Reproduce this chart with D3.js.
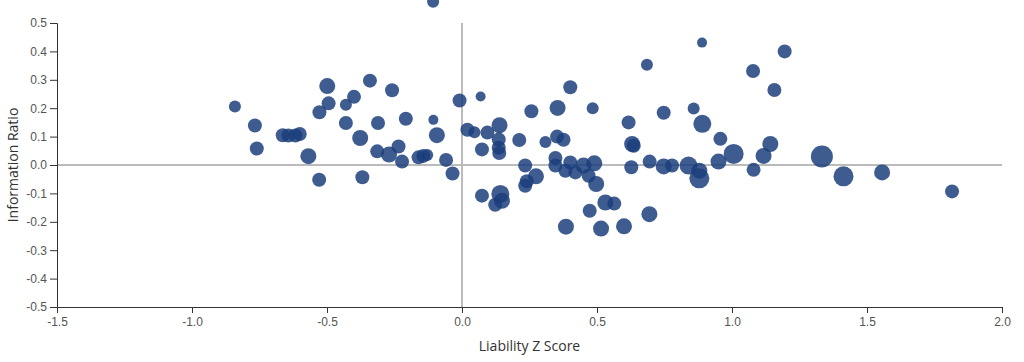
<!DOCTYPE html>
<html>
<head>
<meta charset="utf-8">
<script src="https://cdn.jsdelivr.net/npm/d3@7"></script>
<style>
  body { margin: 0; background: #fff; }
  .axis text { font-family: Arial, "Liberation Sans", sans-serif; font-size: 12px; fill: #555; }
  .axis path, .axis line { stroke: #333; }
  .title { font-family: "Open Sans", sans-serif; font-size: 14px; fill: #333; }
</style>
</head>
<body>
<svg id="chart" width="1024" height="362"></svg>
<script>
// liability z score per fund
var zScore = [
  -0.841, -0.767, -0.760, -0.664, -0.643, -0.617, -0.601, -0.569, -0.529, -0.528,
  -0.499, -0.494, -0.430, -0.400, -0.430, -0.377, -0.369, -0.341, -0.311, -0.259,
  -0.208, -0.106, -0.093, -0.314, -0.270, -0.235, -0.222, -0.161, -0.143, -0.129,
  -0.059, -0.035, -0.009, 0.069, 0.020, 0.046, 0.094, 0.139, 0.136, 0.136,
  0.138, 0.074, -0.107, 0.074, 0.123, 0.142, 0.148, 0.212, 0.234, 0.240,
  0.234, 0.274, 0.257, 0.309, 0.354, 0.352, 0.376, 0.401, 0.484, 0.346,
  0.346, 0.401, 0.383, 0.420, 0.450, 0.490, 0.469, 0.497, 0.473, 0.531,
  0.564, 0.385, 0.515, 0.600, 0.694, 0.617, 0.630, 0.636, 0.627, 0.695,
  0.685, 0.747, 0.747, 0.778, 0.839, 0.858, 0.879, 0.879, 0.889, 0.890,
  0.950, 0.957, 1.006, 1.080, 1.078, 1.117, 1.142, 1.157, 1.195, 1.333,
  1.413, 1.556, 1.815
];
// information ratio per fund
var infoRatio = [
  0.206, 0.139, 0.058, 0.105, 0.104, 0.104, 0.109, 0.031, -0.052, 0.186,
  0.278, 0.217, 0.212, 0.240, 0.148, 0.095, -0.043, 0.297, 0.148, 0.263,
  0.163, 0.159, 0.105, 0.048, 0.037, 0.065, 0.012, 0.027, 0.032, 0.035,
  0.018, -0.030, 0.227, 0.241, 0.124, 0.115, 0.114, 0.140, 0.090, 0.061,
  0.042, 0.055, 0.575, -0.108, -0.140, -0.102, -0.126, 0.088, -0.002, -0.057,
  -0.073, -0.040, 0.189, 0.081, 0.201, 0.100, 0.089, 0.274, 0.200, 0.025,
  -0.002, 0.009, -0.020, -0.026, -0.002, 0.006, -0.038, -0.067, -0.161, -0.132,
  -0.136, -0.217, -0.224, -0.216, -0.173, 0.150, 0.074, 0.068, -0.008, 0.012,
  0.353, 0.184, -0.005, -0.002, -0.002, 0.199, -0.020, -0.047, 0.431, 0.145,
  0.012, 0.092, 0.039, -0.017, 0.331, 0.032, 0.074, 0.264, 0.400, 0.030,
  -0.040, -0.026, -0.093
];
// relative fund size (drives bubble area)
var fundSize = [
  36, 49, 49, 49, 49, 49, 49, 64, 49, 49,
  64, 49, 36, 49, 49, 64, 49, 49, 49, 49,
  49, 25, 64, 49, 64, 49, 49, 49, 49, 36,
  49, 49, 49, 25, 49, 36, 49, 64, 49, 49,
  49, 49, 36, 49, 49, 81, 64, 49, 49, 49,
  49, 64, 49, 36, 64, 49, 49, 49, 36, 49,
  49, 49, 49, 49, 64, 64, 49, 64, 49, 64,
  49, 64, 64, 64, 64, 49, 64, 49, 49, 49,
  36, 49, 64, 49, 81, 36, 64, 100, 25, 81,
  64, 49, 100, 49, 49, 64, 64, 49, 49, 121,
  100, 64, 49
];
var xTicks = [-1.5, -1.0, -0.5, 0.0, 0.5, 1.0, 1.5, 2.0];
var yTicks = [0.5, 0.4, 0.3, 0.2, 0.1, 0.0, -0.1, -0.2, -0.3, -0.4, -0.5];

var funds = zScore.map(function(z, i) {
  return { z: z, ir: infoRatio[i], size: fundSize[i] };
});

var margin = { top: 23, right: 22, bottom: 55, left: 57 };
var width = 1024 - margin.left - margin.right;
var height = 362 - margin.top - margin.bottom;

// plain hyphen for negatives, like the original
var fmt = d3.formatLocale({ decimal: ".", thousands: ",", grouping: [3], currency: ["", ""], minus: "-" }).format(".1f");

var svg = d3.select("#chart");
var g = svg.append("g")
  .attr("transform", "translate(" + margin.left + "," + margin.top + ")");

var x = d3.scaleLinear().domain([-1.5, 2.0]).range([0, width]);
var y = d3.scaleLinear().domain([-0.5, 0.5]).range([height, 0]);
var r = d3.scaleSqrt().domain([0, 121]).range([0, 11]);

// zero reference lines
g.append("line")
  .attr("x1", 0).attr("x2", width)
  .attr("y1", y(0)).attr("y2", y(0))
  .attr("stroke", "#bbb").attr("stroke-width", 2);
g.append("line")
  .attr("x1", x(0)).attr("x2", x(0))
  .attr("y1", 0).attr("y2", height)
  .attr("stroke", "#bbb").attr("stroke-width", 2);

g.append("g")
  .attr("class", "axis")
  .attr("transform", "translate(0," + height + ")")
  .call(d3.axisBottom(x).tickValues(xTicks).tickFormat(fmt).tickSize(6).tickPadding(4));

g.append("g")
  .attr("class", "axis")
  .call(d3.axisLeft(y).tickValues(yTicks).tickFormat(fmt).tickSize(7).tickPadding(3));

g.selectAll("circle.fund")
  .data(funds)
  .enter().append("circle")
  .attr("class", "fund")
  .attr("cx", function(d) { return x(d.z); })
  .attr("cy", function(d) { return y(d.ir); })
  .attr("r", function(d) { return r(d.size); })
  .attr("fill", "#1a3d7c")
  .attr("fill-opacity", 0.84);

svg.append("text")
  .attr("class", "title")
  .attr("x", margin.left + width / 2)
  .attr("y", 351)
  .attr("text-anchor", "middle")
  .text("Liability Z Score");

svg.append("text")
  .attr("class", "title")
  .attr("transform", "translate(18," + (margin.top + height / 2) + ") rotate(-90)")
  .attr("text-anchor", "middle")
  .text("Information Ratio");
</script>
</body>
</html>
